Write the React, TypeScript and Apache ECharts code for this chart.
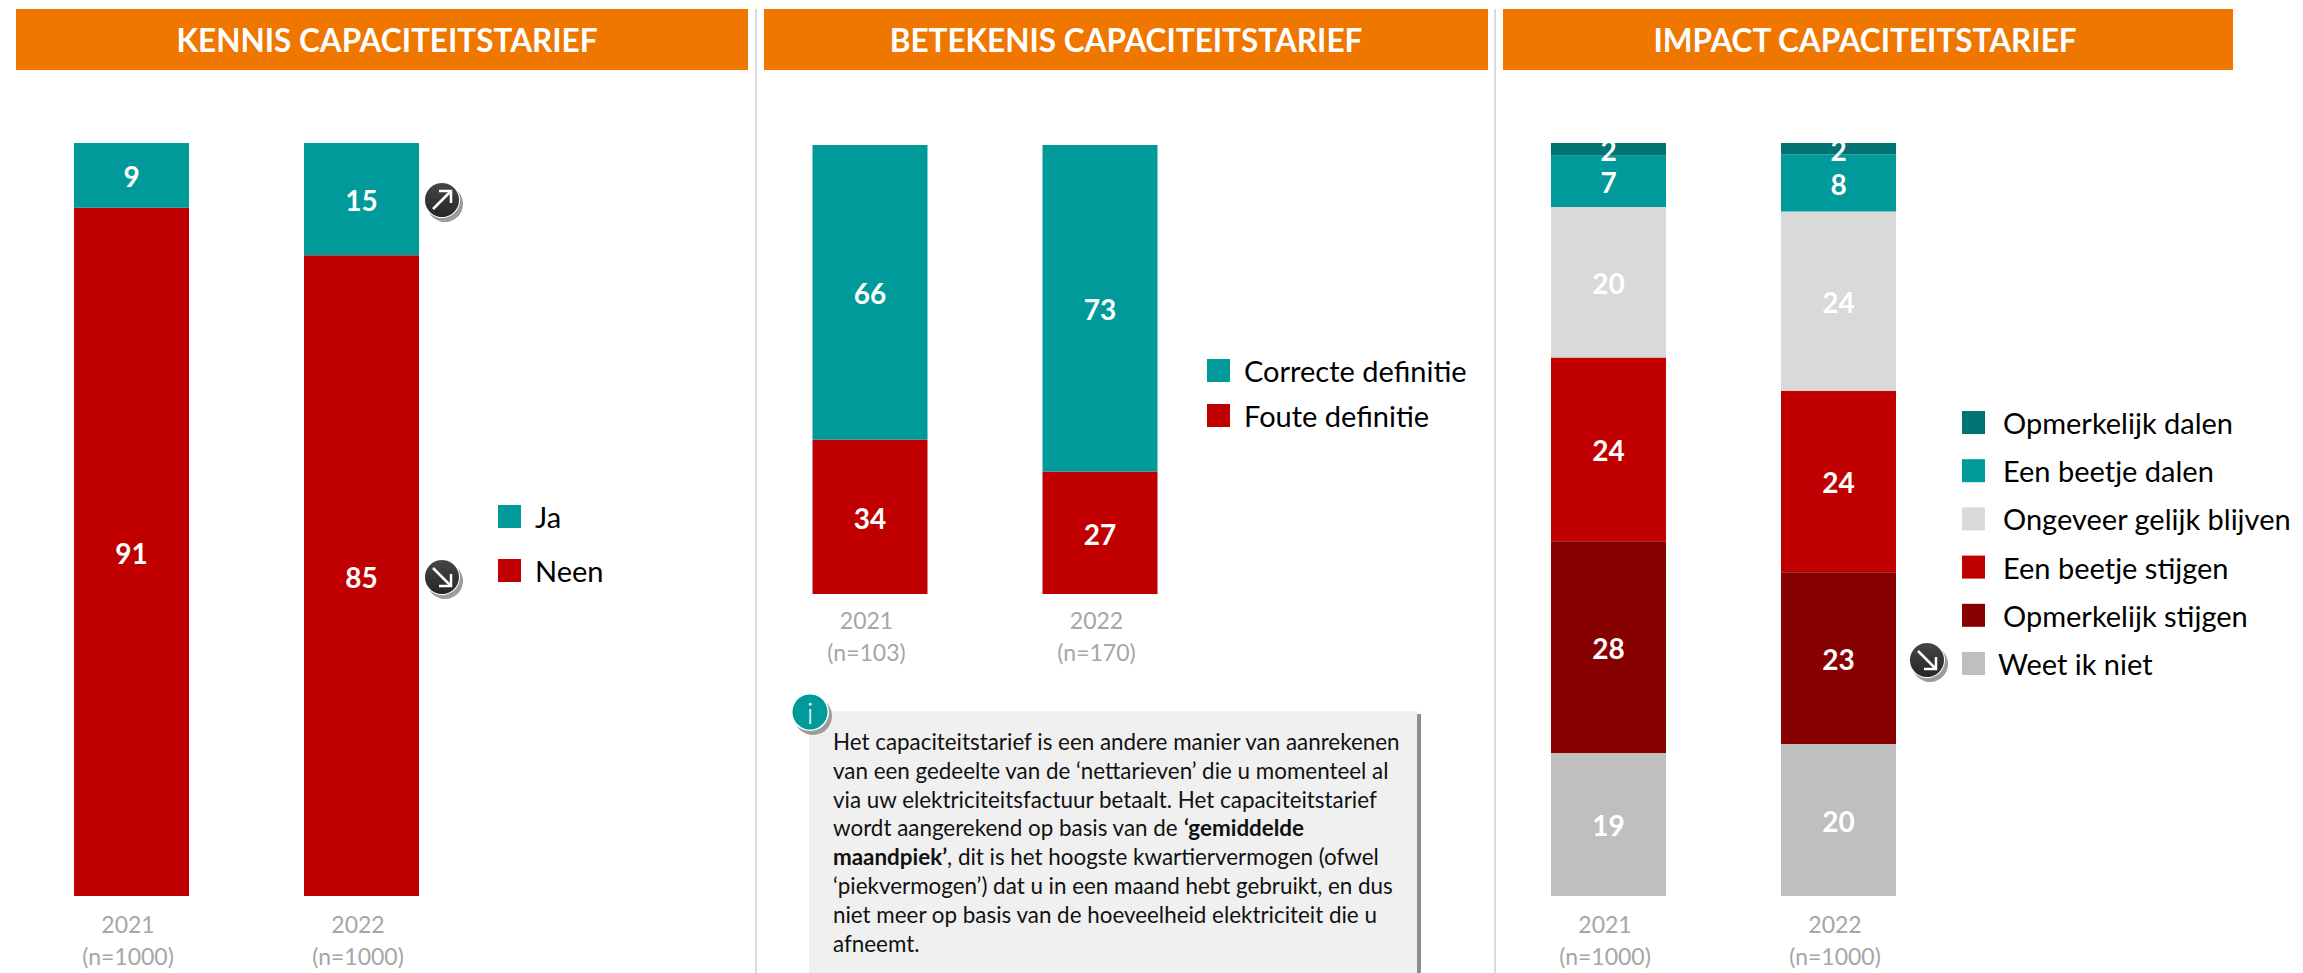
import React, { useEffect, useRef } from "react";
import * as echarts from "echarts";

const FONT = "Lato";
const years1 = ["2021\n(n=1000)", "2022\n(n=1000)"];
const years2 = ["2021\n(n=103)", "2022\n(n=170)"];

const ja = [8.6, 14.9];
const neen = [91.4, 85.1];
const correct = [65.6, 72.7];
const wrong = [34.4, 27.3];
const weetNiet = [19, 20.2];
const opmStijgen = [28.1, 22.8];
const beetjeStijgen = [24.4, 24.1];
const gelijk = [20, 23.8];
const beetjeDalen = [6.8, 7.6];
const opmDalen = [1.7, 1.5];

const titles = ["KENNIS CAPACITEITSTARIEF", "BETEKENIS CAPACITEITSTARIEF", "IMPACT CAPACITEITSTARIEF"];
const infoText = [
  "{n|Het capaciteitstarief is een andere manier van aanrekenen}",
  "{n|van een gedeelte van de ‘nettarieven’ die u momenteel al}",
  "{n|via uw elektriciteitsfactuur betaalt. Het capaciteitstarief}",
  "{n|wordt aangerekend op basis van de }{b|‘gemiddelde}",
  "{b|maandpiek’}{n|, dit is het hoogste kwartiervermogen (ofwel}",
  "{n|‘piekvermogen’) dat u in een maand hebt gebruikt, en dus}",
  "{n|niet meer op basis van de hoeveelheid elektriciteit die u}",
  "{n|afneemt.}",
];

const TEAL = "#009A9A";
const RED = "#C00000";
const DTEAL = "#007372";
const DRED = "#870000";
const LGREY = "#D9D9D9";
const GREY = "#BFBFBF";

function bar(name: string, data: number[], color: string, idx: number) {
  return {
    name,
    type: "bar",
    stack: "s" + idx,
    xAxisIndex: idx,
    yAxisIndex: idx,
    barWidth: 115,
    data,
    itemStyle: { color },
    label: {
      show: true,
      position: "inside",
      offset: [0, 1],
      color: "#fff",
      fontFamily: FONT,
      fontWeight: "bold",
      fontSize: 28,
      formatter: (p: any) => String(Math.round(p.value)),
    },
  };
}

function badge(cx: number, cy: number, up: boolean) {
  const s = up ? -1 : 1;
  return {
    type: "group",
    x: cx,
    y: cy,
    children: [
      { type: "circle", shape: { cx: 3, cy: 4, r: 18 }, style: { fill: "#9c9c9c" } },
      { type: "circle", shape: { cx: 0, cy: 0, r: 18 }, style: { fill: "#fff" } },
      {
        type: "circle",
        shape: { cx: 0, cy: 0, r: 17 },
        style: {
          fill: { type: "linear", x: 0, y: 0, x2: 0, y2: 1, colorStops: [{ offset: 0, color: "#464646" }, { offset: 1, color: "#262626" }] },
        },
      },
      { type: "line", shape: { x1: -9, y1: -9 * s, x2: 9, y2: 9 * s }, style: { stroke: "#fff", lineWidth: 2.5 } },
      { type: "polyline", shape: { points: [[9, -3 * s], [9, 9 * s], [-3, 9 * s]] }, style: { stroke: "#fff", lineWidth: 2.5, fill: "none" } },
    ],
  };
}

function legend(names: any[], left: number, top: number, gap: number, textGap: number) {
  return {
    orient: "vertical",
    left,
    top,
    padding: 0,
    itemWidth: 23,
    itemHeight: 23,
    itemGap: gap,
    icon: "rect",
    data: names,
    selectedMode: false,
    textStyle: { fontFamily: FONT, fontSize: 29, color: "#000", lineHeight: 23, padding: [0, 0, 0, textGap] },
  };
}

function grid(left: number, top: number, height: number) {
  return { left, top, height, width: 460 };
}

function xAxis(data: string[], idx: number, margin: number) {
  return {
    type: "category",
    gridIndex: idx,
    data,
    axisLine: { show: false },
    axisTick: { show: false },
    axisLabel: { color: "#A6A6A6", fontFamily: FONT, fontSize: 23, lineHeight: 32, margin, interval: 0, padding: [0, 7, 0, 0] },
  };
}

function yAxis(idx: number) {
  return { type: "value", gridIndex: idx, min: 0, max: 100, show: false };
}

export default function App() {
  const ref = useRef<HTMLDivElement>(null);
  useEffect(() => {
    const chart = echarts.init(ref.current!, undefined, { renderer: "svg" });
    const headers = [
      [16, 732, 387],
      [764, 724, 1126],
      [1503, 730, 1865],
    ];
    const elements: any[] = [];
    headers.forEach((h, i) => {
      elements.push({ type: "rect", shape: { x: h[0], y: 9, width: h[1], height: 61 }, style: { fill: "#EF7700" } });
      elements.push({
        type: "text",
        x: h[2],
        y: 40,
        style: { text: titles[i], fill: "#fff", font: `bold 31.5px ${FONT}`, textAlign: "center", textVerticalAlign: "middle" },
      });
    });
    [756, 1495].forEach((x) => {
      elements.push({ type: "line", shape: { x1: x, y1: 9, x2: x, y2: 973 }, style: { stroke: "#CFCFCF", lineWidth: 1.5 } });
    });
    elements.push(badge(442, 200, true), badge(442, 577, false), badge(1927, 660, false));
    // info box
    elements.push({ type: "rect", shape: { x: 1417, y: 714, width: 4, height: 259 }, style: { fill: "#8f8f8f" } });
    elements.push({ type: "rect", shape: { x: 809, y: 711, width: 608, height: 262 }, style: { fill: "#F0F0F0" } });
    elements.push({ type: "circle", shape: { cx: 813, cy: 716, r: 19 }, style: { fill: "#9c9c9c" } });
    elements.push({ type: "circle", shape: { cx: 810, cy: 712, r: 19 }, style: { fill: "#fff" } });
    elements.push({ type: "circle", shape: { cx: 810, cy: 712, r: 17.5 }, style: { fill: TEAL } });
    elements.push({
      type: "text",
      x: 810,
      y: 712,
      style: { text: "i", fill: "#fff", font: `300 30px ${FONT}`, textAlign: "center", textVerticalAlign: "middle" },
    });
    elements.push({
      type: "text",
      x: 833,
      y: 727,
      style: {
        text: infoText.join("\n"),
        textAlign: "left",
        textVerticalAlign: "top",
        rich: {
          n: { fontFamily: FONT, fontSize: 22.4, lineHeight: 28.8, fill: "#111", color: "#111" },
          b: { fontFamily: FONT, fontSize: 22.4, fontWeight: "bold", lineHeight: 28.8, fill: "#111", color: "#111" },
        },
      },
    });

    chart.setOption({
      animation: false,
      backgroundColor: "#fff",
      grid: [grid(16.5, 143, 753), grid(755, 145, 449), grid(1493.5, 143, 753)],
      xAxis: [xAxis(years1, 0, 12), xAxis(years2, 1, 10), xAxis(years1, 2, 12)],
      yAxis: [yAxis(0), yAxis(1), yAxis(2)],
      legend: [
        legend(["Ja", "Neen"], 498, 502, 25, 9),
        legend(["Correcte definitie", "Foute definitie"], 1207, 356, 16, 9),
        legend(
          [
            "Opmerkelijk dalen",
            "Een beetje dalen",
            "Ongeveer gelijk blijven",
            "Een beetje stijgen",
            "Opmerkelijk stijgen",
            { name: "Weet ik niet", textStyle: { padding: [0, 0, 0, 8] } },
          ],
          1962,
          408,
          19.2,
          13
        ),
      ],
      series: [
        bar("Neen", neen, RED, 0),
        bar("Ja", ja, TEAL, 0),
        bar("Foute definitie", wrong, RED, 1),
        bar("Correcte definitie", correct, TEAL, 1),
        bar("Weet ik niet", weetNiet, GREY, 2),
        bar("Opmerkelijk stijgen", opmStijgen, DRED, 2),
        bar("Een beetje stijgen", beetjeStijgen, RED, 2),
        bar("Ongeveer gelijk blijven", gelijk, LGREY, 2),
        bar("Een beetje dalen", beetjeDalen, TEAL, 2),
        bar("Opmerkelijk dalen", opmDalen, DTEAL, 2),
      ],
      graphic: { elements },
    });
    return () => chart.dispose();
  }, []);
  return <div ref={ref} style={{ position: "fixed", left: 0, top: 0, width: 2303, height: 973 }} />;
}
